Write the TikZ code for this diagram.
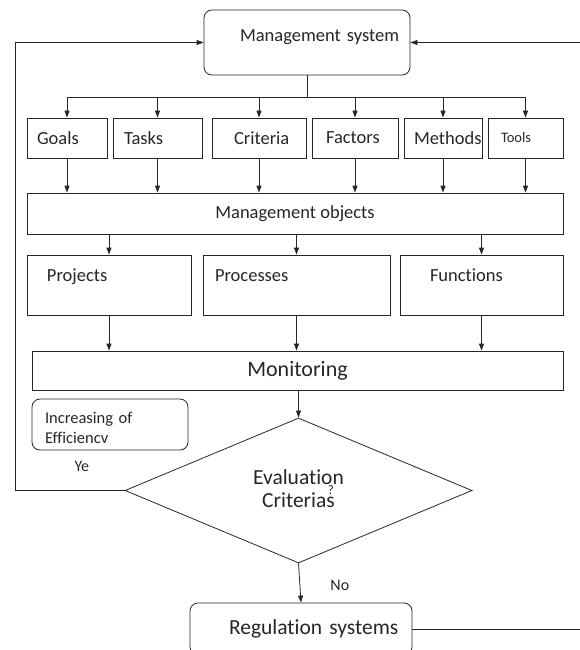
\documentclass[tikz,border=0pt]{standalone}
\usepackage{fontspec}
\setmainfont{Carlito}[Ligatures=NoCommon]
\usetikzlibrary{arrows.meta,shapes.geometric}

\begin{document}
\begin{tikzpicture}[x=1pt,y=-1pt,line width=0.8pt,color=black!85,
  font=\fontsize{18.5}{21}\selectfont,
  arr/.style={-{Triangle[length=7pt,width=5pt]}},
  box/.style={draw, inner sep=0pt, align=left},
  rbox/.style={box, rounded corners=8pt}]
  \useasboundingbox (0,0) rectangle (579,650);
  \coordinate (lft) at (15,0);
  \coordinate (rgt) at (582,0);

  \node[rbox, text width=206pt, minimum height=65pt, text depth=14pt] (msys) at (307,42.5) {\hspace*{36pt}Management system};

  % first row of boxes
  \foreach \name/\lbl/\x/\w/\ind in {goals/Goals/67/80/10, tasks/Tasks/157.5/89/11, crit/Criteria/259/94/22,
      fact/Factors/355/86/14, meth/Methods/443/78/10, tools/\fontsize{14.5}{16}\selectfont Tools/525.5/75/13}
    \node[box, text width=\w pt, minimum height=40pt] (\name) at (\x,138) {\hspace*{\ind pt}\lbl};

  \draw (msys.south) -- ++(0,22) coordinate (bus);
  \draw (bus -| goals.north) -- (bus -| tools.north);
  \node[box, minimum width=536pt, minimum height=41pt] (mobj) at (295,213.5) {Management objects};
  \foreach \name in {goals,tasks,crit,fact,meth,tools} % arrows in and out
  {
    \draw[arr] (bus -| \name.north) -- (\name.north);
    \draw[arr] (\name.south) -- (\name.south |- mobj.north);
  }

  % objects
  \foreach \name/\lbl/\x/\w/\ind in {proj/Projects/109/164/20, proc/Processes/296.5/187/12, func/Functions/481.5/163/30}
    \node[box, text width=\w pt, minimum height=60pt, text depth=19pt] (\name) at (\x,285) {\hspace*{\ind pt}\lbl};

  \node[box, minimum width=531pt, minimum height=39pt, font=\fontsize{22}{26}\selectfont] (mon) at (297.5,370.5) {Monitoring};
  \foreach \name in {proj,proc,func}
  {
    \draw[arr] (mobj.south -| \name.north) -- (\name.north);
    \draw[arr] (\name.south) -- (\name.south |- mon.north);
  }

  \node[rbox, text width=156pt, minimum height=51pt, text height=18pt, font=\fontsize{16.5}{20}\selectfont] (incr) at (110,424.5)
    {\hspace*{13pt}Increasing of\\\hspace*{13pt}Efficiencv};

  \node[draw, diamond, aspect=2.4, minimum width=347pt, minimum height=145pt, inner sep=0pt, align=center,
    font=\fontsize{21.5}{21}\selectfont, text depth=3pt] (diam) at (298.5,490.5)
    {Evaluation\\Criterias\llap{\fontsize{13}{13}\selectfont\raisebox{13pt}{?}\hspace{1pt}}};
  \draw[arr] (diam.north |- mon.south) -- (diam.north);

  \node[rbox, text width=222pt, minimum height=52pt, font=\fontsize{21.5}{24}\selectfont] (reg) at (301,629) {\hspace*{39pt}Regulation systems};
  \draw[arr] (diam.south) -- node[pos=0.55, xshift=40pt, font=\fontsize{16}{18}\selectfont] {No} (reg.north);

  % feedback
  \draw[arr] (diam.west) -- node[pos=0.39, yshift=24pt, font=\fontsize{16}{18}\selectfont] {Ye} (diam.west -| lft) |- (msys.west);
  \draw[arr] (reg.east) -- (reg.east -| rgt) |- (msys.east);
\end{tikzpicture}
\end{document}
